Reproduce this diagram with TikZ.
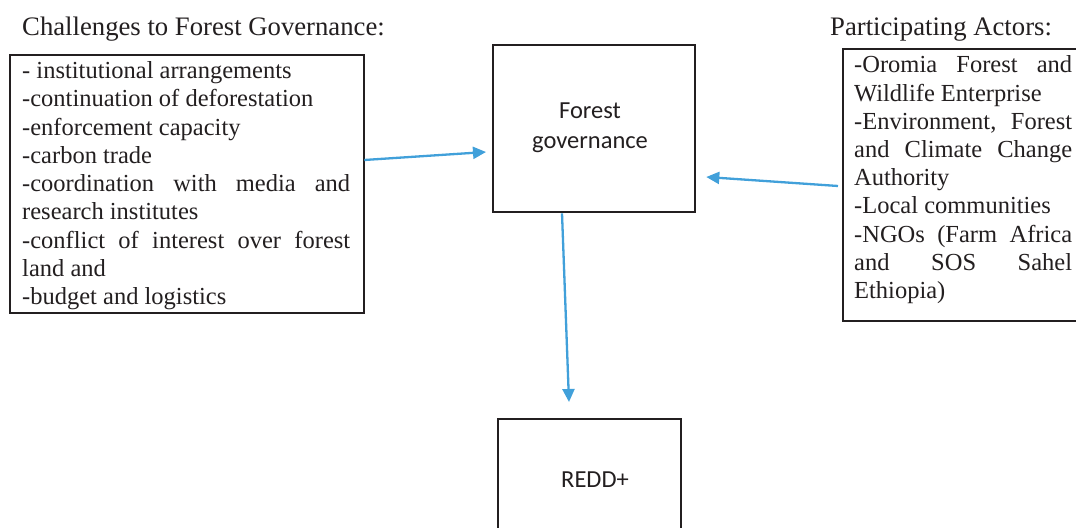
\documentclass[tikz,border=0pt]{standalone}
\usepackage{fontspec}
\setmainfont{Liberation Serif}
\newfontfamily\calibri{Carlito}
\usetikzlibrary{arrows.meta,calc}
\definecolor{arrowblue}{HTML}{41A0DA}
\definecolor{ink}{HTML}{231F20}
\newcommand{\jline}[2]{\makebox[#1][s]{#2}}
\begin{document}
\begin{tikzpicture}[x=1bp,y=-1bp,
  frame/.style={draw=ink,line width=2.3bp,rectangle,inner sep=0pt,anchor=north west},
  list/.style={inner sep=0pt,anchor=north west,align=left,text=ink,font=\fontsize{24.5bp}{28.2bp}\selectfont},
  heading/.style={inner sep=0pt,anchor=base west,text=ink,font=\fontsize{26.7bp}{30bp}\selectfont},
  boxlabel/.style={inner sep=0pt,align=center,text=ink,font=\calibri\fontsize{24.5bp}{30.5bp}\selectfont},
  flow/.style={draw=arrowblue,line width=2.3bp,-{Triangle[length=13bp,width=12bp]}}]
\useasboundingbox (0,0) rectangle (1076,528);
\clip (0,0) rectangle (1076,528);
\fill[white] (0,0) rectangle (1076,528);

\node[heading] (t1) at (22,36) {Challenges to Forest Governance:};
\node[heading] (t2) at (830,36) {Participating Actors:};

\node[frame,minimum width=354bp,minimum height=258bp] (lbox) at (9,54) {};
\node[list] (ltext) at (22,61.6) {- institutional arrangements\\
-continuation of deforestation\\
-enforcement capacity\\
-carbon trade\\
\jline{328bp}{-coordination with media and}\\
research institutes\\
\jline{328bp}{-conflict of interest over forest}\\
land and\\
-budget and logistics};

\node[frame,minimum width=202bp,minimum height=167bp] (fg) at (492,44) {};
\node[boxlabel] (fglabel) at (590,127.5) {Forest\\governance};

\node[frame,minimum width=183bp,minimum height=124bp] (redd) at (497,418) {};
\node[boxlabel] (reddlabel) at (595,480) {REDD+};

\node[frame,minimum width=250bp,minimum height=272bp] (rbox) at (842,48) {};
\node[list] (rtext) at (854,55.8) {\jline{218bp}{-Oromia Forest and}\\
Wildlife Enterprise\\
\jline{218bp}{-Environment, Forest}\\
\jline{218bp}{and Climate Change}\\
Authority\\
-Local communities\\
\jline{218bp}{-NGOs (Farm Africa}\\
\jline{218bp}{and SOS Sahel}\\
Ethiopia)};

\coordinate (a1) at ($(fg.north west)+(-6,108)$);
\coordinate (a2) at ($(fg.north east)+(10,133)$);
\coordinate (a3) at ($(redd.north west)+(72,-16)$);

\draw[flow] ($(lbox.north east)+(-1,106)$) -- (a1);
\draw[flow] ($(rbox.north west)+(-4,138)$) -- (a2);
\draw[flow] ($(fg.south west)+(70,0)$) -- (a3);
\end{tikzpicture}
\end{document}
